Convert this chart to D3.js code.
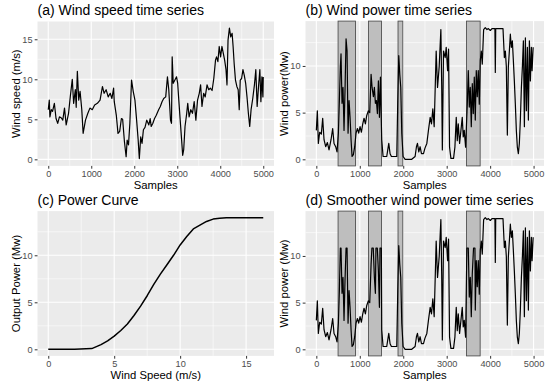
<!DOCTYPE html>
<html>
<head>
<meta charset="utf-8">
<script src="https://cdn.jsdelivr.net/npm/d3@7"></script>
<style>
  body { margin: 0; background: #fff; }
  svg { font-family: "Liberation Sans", Arial, sans-serif; display: block; }
</style>
</head>
<body>
<div id="chart"></div>
<script>
// (a) wind speed
const speedSamples = [0, 24, 39, 70, 100, 142, 181, 220, 260, 300, 338, 378, 417, 472, 512, 559, 590, 630, 650, 677, 709, 740, 780, 811, 866, 921, 969, 1024, 1079, 1142, 1205, 1260, 1299, 1346, 1394, 1441, 1480, 1520, 1535, 1583, 1622, 1661, 1701, 1730, 1772, 1811, 1835, 1866, 1898, 1937, 1976, 2016, 2055, 2090, 2118, 2150, 2181, 2213, 2250, 2291, 2339, 2370, 2394, 2433, 2472, 2512, 2567, 2606, 2646, 2685, 2732, 2772, 2803, 2843, 2866, 2882, 2906, 2945, 2984, 3010, 3031, 3063, 3102, 3126, 3150, 3181, 3220, 3244, 3276, 3315, 3354, 3394, 3433, 3472, 3512, 3543, 3575, 3614, 3650, 3693, 3732, 3770, 3810, 3850, 3890, 3913, 3945, 3976, 4008, 4039, 4071, 4102, 4134, 4157, 4181, 4213, 4244, 4276, 4299, 4323, 4354, 4386, 4417, 4441, 4465, 4496, 4528, 4559, 4591, 4622, 4654, 4685, 4717, 4756, 4795, 4827, 4858, 4890, 4921, 4945, 4969, 4992, 5000];
const speedValues = [6.2, 7.4, 5.3, 6.2, 6.0, 7.0, 5.1, 4.5, 5.3, 5.2, 4.9, 6.4, 4.3, 5.75, 7.8, 10.0, 7.0, 8.7, 6.5, 11.0, 7.4, 8.5, 6.2, 3.25, 4.9, 5.75, 6.4, 6.2, 6.8, 7.0, 7.4, 9.1, 8.25, 8.7, 7.8, 8.25, 7.6, 8.9, 7.2, 5.5, 3.25, 3.5, 5.1, 5.0, 2.2, 0.33, 2.4, 1.8, 4.5, 9.9, 8.5, 7.4, 4.9, 2.5, 0.1, 2.8, 2.0, 3.7, 4.0, 4.9, 4.3, 5.1, 4.1, 4.5, 5.1, 5.5, 6.2, 6.6, 7.2, 7.6, 7.8, 10.3, 8.7, 4.9, 4.5, 12.8, 9.5, 9.9, 10.3, 9.5, 7.8, 5.3, 2.4, 0.5, 1.2, 4.1, 5.75, 7.0, 5.3, 6.2, 5.75, 7.2, 4.9, 7.4, 8.25, 9.3, 6.6, 8.25, 7.8, 9.3, 8.7, 8.9, 8.6, 10.1, 12.4, 12.8, 12.2, 14.1, 12.8, 14.1, 13.25, 12.4, 11.2, 9.3, 14.9, 16.4, 15.3, 15.75, 14.1, 12.0, 9.9, 9.1, 8.7, 6.2, 9.9, 10.1, 11.2, 10.5, 9.5, 7.8, 5.75, 4.1, 6.2, 7.6, 9.3, 11.2, 6.6, 9.1, 11.2, 7.2, 10.3, 7.8, 10.3];

// (b) wind power
const powerSamples = [0, 23, 46, 77, 115, 146, 177, 215, 254, 292, 338, 376, 407, 445, 476, 507, 530, 553, 568, 591, 614, 637, 660, 684, 707, 730, 753, 776, 799, 822, 852, 883, 914, 945, 975, 1006, 1037, 1068, 1098, 1129, 1160, 1198, 1229, 1260, 1283, 1313, 1336, 1359, 1382, 1405, 1428, 1452, 1475, 1490, 1505, 1536, 1582, 1620, 1650, 1667, 1697, 1728, 1774, 1851, 1874, 1897, 1920, 1943, 1966, 1997, 2043, 2120, 2196, 2273, 2304, 2327, 2358, 2388, 2419, 2466, 2500, 2543, 2580, 2620, 2650, 2681, 2712, 2758, 2789, 2827, 2866, 2885, 2900, 2927, 2966, 2989, 3020, 3043, 3066, 3097, 3158, 3189, 3220, 3243, 3266, 3297, 3328, 3358, 3381, 3404, 3435, 3474, 3497, 3520, 3543, 3566, 3589, 3612, 3635, 3658, 3681, 3704, 3727, 3750, 3773, 3796, 3819, 3850, 3888, 3927, 3960, 4004, 4042, 4110, 4119, 4128, 4296, 4327, 4350, 4373, 4396, 4419, 4442, 4465, 4488, 4511, 4534, 4557, 4580, 4603, 4626, 4649, 4672, 4695, 4719, 4742, 4765, 4788, 4811, 4834, 4857, 4880, 4903, 4926, 4949, 4965, 4990];
const powerValues = [3.1, 5.2, 1.7, 2.9, 2.7, 4.4, 2.1, 1.35, 1.8, 1.0, 2.1, 3.3, 1.7, 1.35, 0.8, 2.8, 6.3, 9.9, 11.3, 6.0, 7.7, 3.1, 7.4, 12.9, 11.6, 2.8, 6.3, 4.5, 2.1, 0.3, 0.5, 1.35, 2.8, 3.3, 2.8, 3.5, 2.9, 3.8, 4.4, 3.8, 4.7, 5.2, 5.0, 9.1, 7.7, 6.7, 7.7, 6.0, 6.3, 4.9, 8.4, 4.5, 8.8, 5.2, 2.1, 0.3, 0.3, 0.3, 1.2, 1.7, 0.6, 0.3, 0.3, 0.3, 6.3, 11.1, 9.1, 7.7, 2.8, 0.3, 0, 0, 0, 0.3, 1.35, 1.7, 0.8, 1.35, 0.6, 0.6, 1.2, 1.7, 3.1, 4.5, 3.8, 5.4, 3.5, 11.6, 7.7, 9.9, 13.9, 8.0, 1.0, 11.6, 10.9, 12.0, 9.5, 11.8, 1.3, 0.1, 0.1, 1.3, 4.5, 2.0, 3.8, 1.7, 3.1, 4.5, 2.4, 3.1, 1.3, 5.9, 9.5, 5.6, 7.7, 3.5, 8.1, 4.9, 8.8, 4.2, 9.5, 6.7, 9.5, 5.9, 10.6, 11.6, 10.2, 13.9, 14.1, 13.9, 14.0, 13.8, 14.0, 14.0, 9.3, 14.0, 14.0, 10.9, 11.6, 9.9, 2.6, 9.9, 11.6, 13.4, 12.0, 12.7, 10.6, 8.4, 5.9, 3.1, 1.3, 0.6, 1.7, 4.2, 7.7, 9.9, 12.7, 3.5, 13.0, 5.2, 12.0, 4.2, 12.7, 8.4, 12.0, 9.5, 12.0];

// (d) smoother wind power
const smoothSamples = [0, 23, 46, 77, 115, 146, 177, 215, 254, 292, 338, 376, 407, 445, 476, 507, 530, 553, 568, 591, 614, 637, 660, 684, 707, 730, 753, 776, 799, 822, 852, 883, 914, 945, 975, 1006, 1037, 1068, 1098, 1129, 1160, 1198, 1229, 1260, 1279, 1310, 1336, 1359, 1372, 1403, 1428, 1452, 1465, 1496, 1505, 1536, 1582, 1620, 1650, 1667, 1697, 1728, 1774, 1851, 1874, 1897, 1920, 1943, 1966, 1997, 2043, 2120, 2196, 2273, 2304, 2327, 2358, 2388, 2419, 2466, 2500, 2543, 2580, 2620, 2650, 2681, 2712, 2758, 2789, 2827, 2866, 2885, 2900, 2927, 2966, 2989, 3020, 3043, 3066, 3097, 3158, 3189, 3220, 3243, 3266, 3297, 3328, 3358, 3381, 3404, 3435, 3465, 3497, 3520, 3543, 3566, 3589, 3618, 3650, 3658, 3681, 3704, 3727, 3750, 3773, 3796, 3819, 3850, 3888, 3927, 3960, 4004, 4042, 4110, 4119, 4128, 4296, 4327, 4350, 4373, 4396, 4419, 4442, 4465, 4488, 4511, 4534, 4557, 4580, 4603, 4626, 4649, 4672, 4695, 4719, 4742, 4765, 4788, 4811, 4834, 4857, 4880, 4903, 4926, 4949, 4965, 4990];
const smoothValues = [3.1, 5.2, 1.7, 2.9, 2.7, 4.4, 2.1, 1.35, 1.8, 1.0, 2.1, 3.3, 1.7, 1.35, 0.8, 2.8, 6.3, 10.85, 10.85, 6.0, 7.7, 3.1, 7.4, 10.85, 10.85, 2.8, 6.3, 4.5, 2.1, 0.3, 0.5, 1.35, 2.8, 3.3, 2.8, 3.5, 2.9, 3.8, 4.4, 3.8, 4.7, 5.2, 5.0, 9.1, 10.85, 10.85, 7.7, 6.0, 10.85, 10.85, 8.4, 4.5, 10.85, 10.85, 2.1, 0.3, 0.3, 0.3, 1.2, 1.7, 0.6, 0.3, 0.3, 0.3, 6.3, 11.1, 9.1, 7.7, 2.8, 0.3, 0, 0, 0, 0.3, 1.35, 1.7, 0.8, 1.35, 0.6, 0.6, 1.2, 1.7, 3.1, 4.5, 3.8, 5.4, 3.5, 11.6, 7.7, 9.9, 13.9, 8.0, 1.0, 11.6, 10.9, 12.0, 9.5, 11.8, 1.3, 0.1, 0.1, 1.3, 4.5, 2.0, 3.8, 1.7, 3.1, 4.5, 2.4, 3.1, 1.3, 10.85, 10.85, 5.6, 7.7, 3.5, 8.1, 10.85, 10.85, 4.2, 9.5, 6.7, 9.5, 5.9, 10.6, 11.6, 10.2, 13.9, 14.1, 13.9, 14.0, 13.8, 14.0, 14.0, 9.3, 14.0, 14.0, 10.9, 11.6, 9.9, 2.6, 9.9, 11.6, 13.4, 12.0, 12.7, 10.6, 8.4, 5.9, 3.1, 1.3, 0.6, 1.7, 4.2, 7.7, 9.9, 12.7, 3.5, 13.0, 5.2, 12.0, 4.2, 12.7, 8.4, 12.0, 9.5, 12.0];

// (c) power curve
const curveSpeed = [0, 2, 3.3, 4, 4.5, 5, 5.5, 6, 6.5, 7, 7.5, 8, 8.5, 9, 9.5, 10, 10.5, 11, 11.5, 12, 12.5, 13, 13.5, 16.3];
const curvePower = [0, 0, 0.08, 0.5, 0.9, 1.4, 2.0, 2.7, 3.6, 4.6, 5.7, 6.9, 8.0, 9.0, 10.0, 11.1, 12.0, 12.8, 13.2, 13.6, 13.85, 13.95, 14.0, 14.0];

// highlighted sample windows in (b) and (d)
const windowStart = [500, 1200, 1880, 3455];
const windowEnd = [900, 1500, 1990, 3770];

const sampleTicks = [0, 1000, 2000, 3000, 4000, 5000];
const speedTicks = [0, 5, 10, 15];
const powerTicks = [0, 5, 10];

const width = 550, height = 381;
const svg = d3.select("#chart").append("svg")
    .attr("width", width)
    .attr("height", height);

function expand(ext) {
  const pad = (ext[1] - ext[0]) * 0.05;
  return [ext[0] - pad, ext[1] + pad];
}

function panel(o) {
  const g = svg.append("g");
  const x = d3.scaleLinear().domain(expand(d3.extent(o.xs))).range([o.left, o.right]);
  const y = d3.scaleLinear().domain(expand([0, d3.max(o.ys)])).range([o.bottom, o.top]);

  g.append("rect")
    .attr("x", o.left).attr("y", o.top)
    .attr("width", o.right - o.left).attr("height", o.bottom - o.top)
    .attr("fill", "#ebebeb");

  // minor grid
  const xMinor = d3.pairs(o.xTicks).map(p => (p[0] + p[1]) / 2);
  const yMinor = d3.pairs(o.yTicks).map(p => (p[0] + p[1]) / 2);
  const yTop = o.yTicks[o.yTicks.length - 1] + (o.yTicks[1] - o.yTicks[0]) / 2;
  if (y(yTop) > o.top) yMinor.push(yTop);
  g.selectAll(".xminor").data(xMinor).enter().append("line")
    .attr("x1", d => x(d)).attr("x2", d => x(d))
    .attr("y1", o.top).attr("y2", o.bottom)
    .attr("stroke", "#fff").attr("stroke-width", 0.55);
  g.selectAll(".yminor").data(yMinor).enter().append("line")
    .attr("y1", d => y(d)).attr("y2", d => y(d))
    .attr("x1", o.left).attr("x2", o.right)
    .attr("stroke", "#fff").attr("stroke-width", 0.55);
  // major grid
  g.selectAll(".xmajor").data(o.xTicks).enter().append("line")
    .attr("x1", d => x(d)).attr("x2", d => x(d))
    .attr("y1", o.top).attr("y2", o.bottom)
    .attr("stroke", "#fff").attr("stroke-width", 1.1);
  g.selectAll(".ymajor").data(o.yTicks).enter().append("line")
    .attr("y1", d => y(d)).attr("y2", d => y(d))
    .attr("x1", o.left).attr("x2", o.right)
    .attr("stroke", "#fff").attr("stroke-width", 1.1);

  if (o.windows) {
    g.selectAll(".win").data(o.windows).enter().append("rect")
      .attr("x", d => x(d[0]))
      .attr("width", d => x(d[1]) - x(d[0]))
      .attr("y", o.top).attr("height", o.bottom - o.top)
      .attr("fill", "#bebebe")
      .attr("stroke", "#505050").attr("stroke-width", 0.9);
  }

  const pts = o.xs.map((v, i) => [v, o.ys[i]]);
  g.append("path")
    .datum(pts)
    .attr("d", d3.line().x(d => x(d[0])).y(d => y(d[1])))
    .attr("fill", "none")
    .attr("stroke", "#000")
    .attr("stroke-width", o.lw || 1.2)
    .attr("stroke-linejoin", "round");

  // axes, ggplot-ish
  const xAxis = g.append("g").attr("transform", `translate(0,${o.bottom})`)
    .call(d3.axisBottom(x).tickValues(o.xTicks).tickSize(2.8).tickPadding(1.6).tickFormat(d3.format("d")));
  const yAxis = g.append("g").attr("transform", `translate(${o.left},0)`)
    .call(d3.axisLeft(y).tickValues(o.yTicks).tickSize(2.8).tickPadding(2.2).tickFormat(d3.format("d")));
  [xAxis, yAxis].forEach(a => {
    a.select(".domain").remove();
    a.selectAll(".tick line").attr("stroke", "#333").attr("stroke-width", 1);
    a.selectAll(".tick text").attr("fill", "#4d4d4d")
      .style("font-size", "9.2px").style("font-family", "Liberation Sans, Arial, sans-serif");
  });

  g.append("text")
    .attr("x", o.left).attr("y", o.top - 6.5)
    .style("font-size", "14px")
    .text(o.title);
  g.append("text")
    .attr("x", (o.left + o.right) / 2).attr("y", o.bottom + 22.6)
    .attr("text-anchor", "middle")
    .style("font-size", "11.3px")
    .text(o.xLabel);
  g.append("text")
    .attr("transform", `translate(${o.left - 17.5},${(o.top + o.bottom) / 2}) rotate(-90)`)
    .attr("text-anchor", "middle")
    .style("font-size", "11.3px")
    .text(o.yLabel);
}

const windows = windowStart.map((s, i) => [s, windowEnd[i]]);

panel({
  left: 37.5, right: 274, top: 21.5, bottom: 165.9,
  xs: speedSamples, ys: speedValues,
  xTicks: sampleTicks, yTicks: speedTicks,
  title: "(a) Wind speed time series", xLabel: "Samples", yLabel: "Wind speed (m/s)"
});
panel({
  left: 305.5, right: 544, top: 21.1, bottom: 165.9,
  xs: powerSamples, ys: powerValues,
  xTicks: sampleTicks, yTicks: powerTicks, windows: windows,
  title: "(b) Wind power time series", xLabel: "Samples", yLabel: "Wind power(Mw)"
});
panel({
  left: 37.5, right: 274, top: 211.1, bottom: 355.9,
  xs: curveSpeed, ys: curvePower, lw: 1.5,
  xTicks: [0, 5, 10, 15], yTicks: powerTicks,
  title: "(c) Power Curve", xLabel: "Wind Speed (m/s)", yLabel: "Output Power (Mw)"
});
panel({
  left: 305.5, right: 544, top: 211.1, bottom: 355.9,
  xs: smoothSamples, ys: smoothValues,
  xTicks: sampleTicks, yTicks: powerTicks, windows: windows,
  title: "(d) Smoother wind power time series", xLabel: "Samples", yLabel: "Wind power (Mw)"
});
</script>
</body>
</html>
